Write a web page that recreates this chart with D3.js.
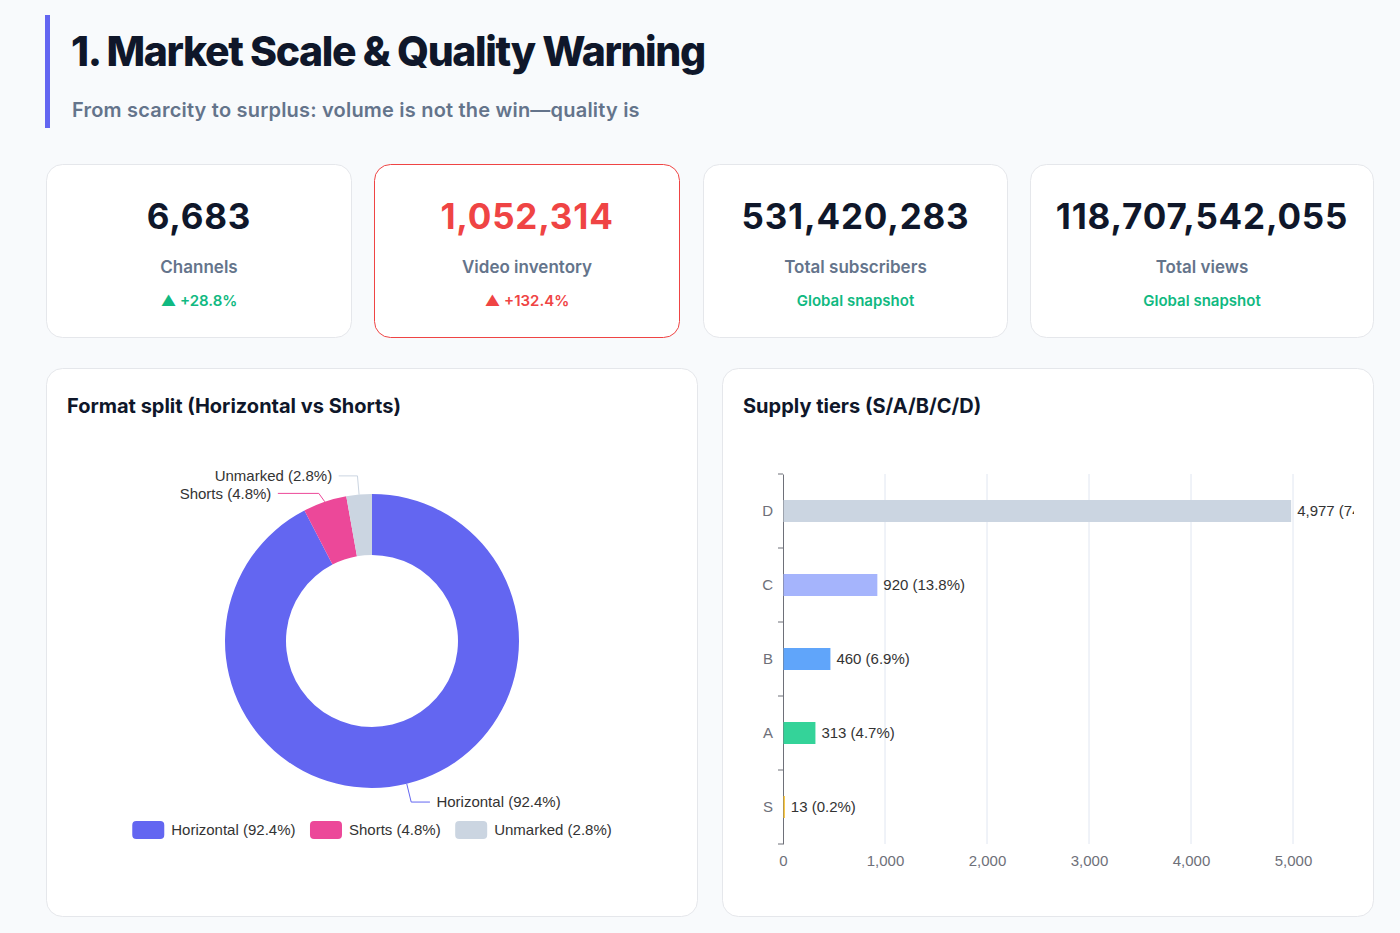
<!DOCTYPE html>
<html>
<head>
<meta charset="utf-8">
<script src="https://cdn.jsdelivr.net/npm/d3@7"></script>
<style>
html,body{margin:0;padding:0;background:#f8fafc;}
svg{display:block;}
</style>
</head>
<body>
<div id="page"></div>
<script>
//---kpi cards---
var kpiValues=["6,683","1,052,314","531,420,283","118,707,542,055"]
var kpiLabels=["Channels","Video inventory","Total subscribers","Total views"]
var kpiNotes=["▲ +28.8%","▲ +132.4%","Global snapshot","Global snapshot"]
//---format split (donut)---
var formatNames=["Horizontal","Shorts","Unmarked"]
var formatShares=[92.4,4.8,2.8]
//---supply tiers (bars)---
var tierNames=["S","A","B","C","D"]
var tierCounts=[13,313,460,920,4977]
var tierShares=[0.2,4.7,6.9,13.8,74.5]
var xTicks=[0,1000,2000,3000,4000,5000]

//---styles---
var formatColors=["#6366f1","#ec4899","#cbd5e1"]
var tierColors={S:"#fbbf24",A:"#34d399",B:"#60a5fa",C:"#a5b4fc",D:"#cbd5e1"}
var kpiValueColors=["#0f172a","#ef4444","#0f172a","#0f172a"]
var kpiNoteColors=["#10b981","#ef4444","#10b981","#10b981"]
var UI="Inter, 'Noto Sans', sans-serif"
var CH="'Liberation Sans', Arial, sans-serif"

var W=1400, H=933
var svg=d3.select("#page").append("svg")
  .attr("width",W).attr("height",H)
  .attr("viewBox","0 0 "+W+" "+H)

svg.append("rect").attr("width",W).attr("height",H).attr("fill","#f8fafc")

//---header---
svg.append("rect").attr("x",45).attr("y",15).attr("width",5).attr("height",113).attr("fill","#6366f1")
svg.append("text").attr("x",71).attr("y",66)
  .attr("font-family",UI).attr("font-size",41).attr("font-weight",800)
  .attr("letter-spacing","-1.4px").attr("fill","#0f172a")
  .text("1. Market Scale & Quality Warning")
svg.append("text").attr("x",72).attr("y",117)
  .attr("font-family",UI).attr("font-size",20).attr("font-weight",600)
  .attr("letter-spacing","0.2px").attr("fill","#64748b")
  .text("From scarcity to surplus: volume is not the win\u2014quality is")

//---kpi row---
var kpiX=[46,374,703,1030], kpiW=[306,306,305,344]
var kpiG=svg.append("g")
kpiValues.forEach(function(v,i){
  var g=kpiG.append("g").attr("transform","translate("+kpiX[i]+",164)")
  g.append("rect").attr("x",0.5).attr("y",0.5).attr("width",kpiW[i]-1).attr("height",173)
    .attr("rx",16).attr("fill","#fff")
    .attr("stroke",i==1?"#ef4444":"#e5e7eb").attr("stroke-width",1)
  var cx=kpiW[i]/2
  g.append("text").attr("x",cx).attr("y",65).attr("text-anchor","middle")
    .attr("font-family",UI).attr("font-size",35).attr("font-weight",700)
    .attr("letter-spacing","0.8px").attr("fill",kpiValueColors[i]).text(v)
  g.append("text").attr("x",cx).attr("y",109).attr("text-anchor","middle")
    .attr("font-family",UI).attr("font-size",17).attr("font-weight",600)
    .attr("fill","#64748b").text(kpiLabels[i])
  g.append("text").attr("x",cx).attr("y",142).attr("text-anchor","middle")
    .attr("font-family",UI).attr("font-size",15).attr("font-weight",600)
    .attr("fill",kpiNoteColors[i]).text(kpiNotes[i])
})

//---chart panels---
function panel(x,title){
  var g=svg.append("g").attr("transform","translate("+x+",368)")
  g.append("rect").attr("x",0.5).attr("y",0.5).attr("width",651).attr("height",548)
    .attr("rx",16).attr("fill","#fff").attr("stroke","#e5e7eb")
  g.append("text").attr("x",21).attr("y",45)
    .attr("font-family",UI).attr("font-size",20).attr("font-weight",700)
    .attr("fill","#0f172a").text(title)
}
panel(46,"Format split (Horizontal vs Shorts)")
panel(722,"Supply tiers (S/A/B/C/D)")

//---donut---
var cx=372, cy=641, R=147, R0=86, len1=18.75, len2=18.75
var pie=d3.pie().sort(null).value(function(d){return d})
var arcs=pie(formatShares)
var arc=d3.arc().innerRadius(R0).outerRadius(R)
var donutG=svg.append("g")
donutG.selectAll("path.slice").data(arcs).enter().append("path")
  .attr("class","slice")
  .attr("transform","translate("+cx+","+cy+")")
  .attr("d",arc)
  .attr("fill",function(d,i){return formatColors[i]})

//---label layout (shift down on overlap, recalc x on ellipse)---
var items=arcs.map(function(a,i){
  var mid=(a.startAngle+a.endAngle)/2
  var sx=Math.sin(mid), sy=-Math.cos(mid)
  var dir=sx<0?-1:1
  var p1=[cx+(R+len1)*sx, cy+(R+len1)*sy]
  return {i:i,dir:dir,p0:[cx+R*sx,cy+R*sy],p1:p1,x:p1[0]+dir*len2,y:p1[1]}
})
var lineH=17.5
;[-1,1].forEach(function(dir){
  var side=items.filter(function(d){return d.dir==dir}).sort(function(a,b){return a.y-b.y})
  var shifted=false
  for(var k=1;k<side.length;k++){
    if(side[k].y-side[k-1].y<lineH){ side[k].y=side[k-1].y+lineH; shifted=true }
  }
  if(!shifted) return
  ;[true,false].forEach(function(top){
    var semi=side.filter(function(d){return top?d.y<=cy:d.y>cy})
    if(!semi.length) return
    var far=semi.reduce(function(m,d){return Math.abs(d.y-cy)>Math.abs(m.y-cy)?d:m})
    var rA=R+len1
    var dx0=far.x-cx-len2*dir
    var dyF=Math.abs(far.y-cy)
    var rB=Math.abs(dx0)<rA?Math.sqrt(dyF*dyF/(1-dx0*dx0/(rA*rA))):rA
    semi.forEach(function(d){
      var dy=Math.abs(d.y-cy)
      var dx=Math.sqrt(Math.max(0,1-dy*dy/(rB*rB))*rA*rA)
      d.x=cx+(dx+len2)*dir
    })
  })
})
donutG.selectAll("path.leader").data(items).enter().append("path")
  .attr("class","leader")
  .attr("fill","none").attr("stroke-width",1)
  .attr("stroke",function(d){return formatColors[d.i]})
  .attr("d",function(d){return d3.line()([d.p0,[d.p1[0],d.y],[d.x,d.y]])})
donutG.selectAll("text.lbl").data(items).enter().append("text")
  .attr("class","lbl")
  .attr("x",function(d){return d.x+d.dir*6.5})
  .attr("y",function(d){return d.y})
  .attr("dy","0.36em")
  .attr("text-anchor",function(d){return d.dir<0?"end":"start"})
  .attr("font-family",CH).attr("font-size",15).attr("fill","#333")
  .text(function(d){return formatNames[d.i]+" ("+formatShares[d.i]+"%)"})

//---legend---
var legG=svg.append("g").attr("transform","translate(0,830)")
var leg=legG.selectAll("g").data(formatNames).enter().append("g")
leg.append("rect").attr("y",-9).attr("width",32).attr("height",18).attr("rx",4)
  .attr("fill",function(d,i){return formatColors[i]})
leg.append("text").attr("x",39).attr("dy","0.36em")
  .attr("font-family",CH).attr("font-size",15).attr("fill","#333")
  .text(function(d,i){return d+" ("+formatShares[i]+"%)"})
var widths=[]
leg.each(function(){widths.push(39+this.querySelector("text").getComputedTextLength())})
var gap=14.5
var total=d3.sum(widths)+gap*(widths.length-1)
var lx=cx-total/2
leg.attr("transform",function(d,i){var t="translate("+lx+",0)";lx+=widths[i]+gap;return t})

//---bars---
var x=d3.scaleLinear().domain([0,5000]).range([783,1293])
var y=d3.scaleBand().domain(tierNames.slice().reverse()).range([474,844])
var barH=22
var barG=svg.append("g")
barG.append("g").selectAll("line").data(xTicks.slice(1)).enter().append("line")
  .attr("x1",function(d){return x(d)}).attr("x2",function(d){return x(d)})
  .attr("y1",474).attr("y2",844).attr("stroke","#e0e6f1").attr("stroke-width",1)

var xAxis=barG.append("g").attr("transform","translate(0,844)")
  .call(d3.axisBottom(x).tickValues(xTicks).tickSize(0).tickPadding(11).tickFormat(d3.format(",")))
xAxis.select(".domain").remove()
xAxis.selectAll("text").attr("font-family",CH).attr("font-size",15).attr("fill","#6e7079")

var yAxis=barG.append("g").attr("transform","translate(783,0)")
  .call(d3.axisLeft(y).tickSize(0).tickPadding(10))
yAxis.select(".domain").attr("stroke","#6e7079")
yAxis.selectAll("text").attr("font-family",CH).attr("font-size",15).attr("fill","#6e7079")
var bounds=y.domain().map(function(d){return y(d)}).concat([y.range()[1]])
yAxis.selectAll("line.bound").data(bounds).enter().append("line").attr("class","bound")
  .attr("x1",-5).attr("x2",0).attr("y1",function(d){return d}).attr("y2",function(d){return d})
  .attr("stroke","#6e7079")

var clip=svg.append("defs").append("clipPath").attr("id","barClip")
clip.append("rect").attr("x",722).attr("y",368).attr("width",632).attr("height",548)
var plot=barG.append("g").attr("clip-path","url(#barClip)")
plot.selectAll("rect").data(tierNames).enter().append("rect")
  .attr("x",x(0)+0.5)
  .attr("y",function(d){return y(d)+y.bandwidth()/2-barH/2})
  .attr("width",function(d,i){return x(tierCounts[i])-x(0)})
  .attr("height",barH)
  .attr("fill",function(d){return tierColors[d]})
plot.selectAll("text").data(tierNames).enter().append("text")
  .attr("x",function(d,i){return x(tierCounts[i])+6.5})
  .attr("y",function(d){return y(d)+y.bandwidth()/2})
  .attr("dy","0.36em")
  .attr("font-family",CH).attr("font-size",15).attr("fill","#333")
  .text(function(d,i){return d3.format(",")(tierCounts[i])+" ("+tierShares[i]+"%)"})
</script>
</body>
</html>
